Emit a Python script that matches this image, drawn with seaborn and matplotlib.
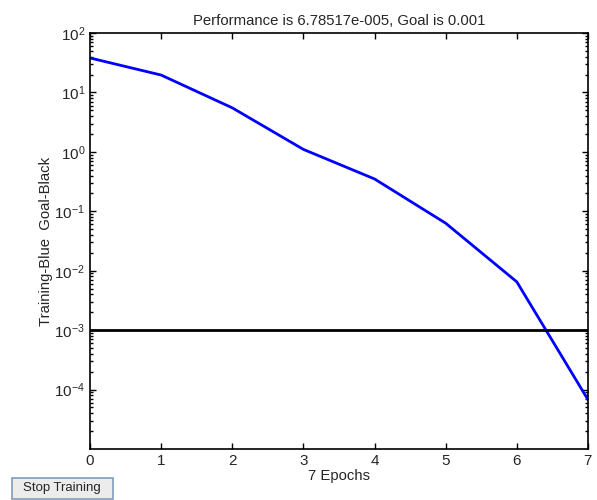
import numpy as np
import pandas as pd
import matplotlib
matplotlib.use('Agg')
import matplotlib.pyplot as plt
import matplotlib.patches as patches
import seaborn as sns

# training performance per epoch
epochs = [0, 1, 2, 3, 4, 5, 6, 7]
perf = [38, 19.6, 5.5, 1.1, 0.35, 0.063, 0.0065, 6.78517e-5]
goal = 0.001

df = pd.DataFrame({'epoch': epochs, 'perf': perf})

sns.set_style('ticks')
plt.rcParams['font.family'] = ['Liberation Sans', 'DejaVu Sans']
plt.rcParams['mathtext.fontset'] = 'custom'
plt.rcParams['mathtext.rm'] = 'Liberation Sans'
plt.rcParams['axes.unicode_minus'] = False
plt.rcParams['xtick.direction'] = 'in'
plt.rcParams['ytick.direction'] = 'in'

fig = plt.figure(figsize=(5.97, 5.0), dpi=100)
ax = fig.add_axes([0.1508, 0.102, 0.834, 0.832])

sns.lineplot(data=df, x='epoch', y='perf', color='#0000ff', lw=2, ax=ax)
ax.axhline(goal, color='black', lw=2)

ax.set_yscale('log')
ax.set_xlim(0, 7)
ax.set_ylim(1e-5, 1e2)
ax.set_yticks([1e-4, 1e-3, 1e-2, 1e-1, 1e0, 1e1, 1e2])
ax.set_xticks(range(8))
ax.tick_params(which='both', top=True, right=True, labelsize=11, width=1, color='black')
ax.tick_params(which='major', length=4)
ax.tick_params(which='minor', length=2)
ax.tick_params(axis='x', which='minor', bottom=False, top=False)
for s in ax.spines.values():
    s.set_color('black')
    s.set_linewidth(1.2)

ax.set_title('Performance is 6.78517e-005, Goal is 0.001', fontsize=10.7, pad=6)
ax.set_xlabel('7 Epochs', fontsize=10.7, labelpad=1)
ax.set_ylabel('Training-Blue  Goal-Black', fontsize=10.7, labelpad=1)

# "Stop Training" button
btn = patches.Rectangle((12 / 597, 1 / 500), 101 / 597, 21 / 500, transform=fig.transFigure,
                        fc='#ececec', ec='#7f9db9', lw=1.2)
fig.patches.append(btn)
fig.text(62 / 597, 11.5 / 500, 'Stop Training', fontsize=9.5, ha='center', va='center')

fig.savefig('out.png', dpi=100)
